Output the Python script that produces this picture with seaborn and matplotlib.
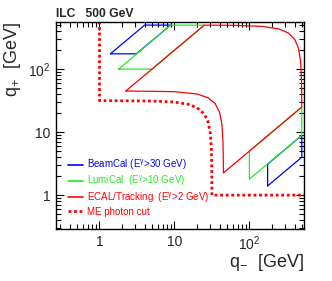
import matplotlib
matplotlib.use("Agg")
import pandas as pd
import matplotlib.pyplot as plt
import seaborn as sns
from matplotlib.ticker import FixedLocator, FixedFormatter, LogLocator, NullFormatter


sns.set_theme(style="ticks")
plt.rcParams["font.family"] = ["Liberation Sans", "DejaVu Sans"]
plt.rcParams["mathtext.fontset"] = "custom"
plt.rcParams["mathtext.rm"] = "Liberation Sans"
plt.rcParams["mathtext.it"] = "Liberation Sans"

# BeamCal acceptance (E_gamma > 30 GeV), wedges next to both axes
beamcal_upper_x = [1.4, 4.0, 8.9, 3.1, 1.4]
beamcal_upper_y = [175, 500, 500, 175, 175]
beamcal_lower_x = [175, 500, 500, 175, 175]
beamcal_lower_y = [1.4, 4.0, 8.9, 3.1, 1.4]

# LumiCal acceptance (E_gamma > 10 GeV)
lumical_upper_x = [1.8, 8.9, 25, 5.0, 1.8]
lumical_upper_y = [100, 500, 499, 100, 100]
lumical_lower_x = [100, 500, 499, 100, 100]
lumical_lower_y = [1.8, 8.9, 25, 5.0, 1.8]

# ECAL / tracking acceptance (E_gamma > 2 GeV)
ecal_x = [2.25, 10, 20, 28, 35, 40, 43, 44.5, 44.8, 45, 499.4,
          498, 495, 480, 450, 400, 330, 250, 150, 60, 25, 2.25]
ecal_y = [45, 43.9, 40.3, 35.2, 28.3, 20.6, 13.2, 6.7, 4.2, 2.25, 25,
          45, 70, 140, 218, 300, 375, 433, 477, 496, 499.4, 45]

# matrix element photon cut
me_cut_x = [1, 1, 5, 10, 15, 20, 25, 28, 30, 31, 31.5, 31.6, 700]
me_cut_y = [700, 31.6, 31.2, 30, 27.8, 24.5, 19.4, 14.7, 9.9, 5.9, 2.5, 1, 1]

BLUE = "#0000ff"
GREEN = "#22ee22"
RED = "#ff0000"


def draw_outline(ax, xs, ys, color, **kw):
    df = pd.DataFrame({"q_minus": xs, "q_plus": ys})
    sns.lineplot(data=df, x="q_minus", y="q_plus", sort=False, estimator=None,
                 color=color, ax=ax, **kw)


fig = plt.figure(figsize=(3.32, 2.81), dpi=100)
ax = fig.add_axes([56 / 332, 1 - 229 / 281, 248 / 332, 207 / 281])
ax.set_xscale("log")
ax.set_yscale("log")

draw_outline(ax, beamcal_upper_x, beamcal_upper_y, BLUE, lw=0.9)
draw_outline(ax, beamcal_lower_x, beamcal_lower_y, BLUE, lw=0.9)
draw_outline(ax, lumical_upper_x, lumical_upper_y, GREEN, lw=0.9)
draw_outline(ax, lumical_lower_x, lumical_lower_y, GREEN, lw=0.9)
draw_outline(ax, ecal_x, ecal_y, RED, lw=0.9)
draw_outline(ax, me_cut_x, me_cut_y, RED, lw=2.0, linestyle=(0, (1, 1)))

ax.set_xlim(0.263, 535)
ax.set_ylim(0.29, 560)

for axis in (ax.xaxis, ax.yaxis):
    axis.set_major_locator(FixedLocator([1, 10, 100]))
    axis.set_major_formatter(FixedFormatter(["1", "10", r"10$^{2}$"]))
    axis.set_minor_locator(LogLocator(base=10, subs=range(2, 10), numticks=20))
    axis.set_minor_formatter(NullFormatter())

ax.tick_params(which="both", direction="in", top=True, right=True, width=0.8,
               color="black", labelsize=10)
ax.tick_params(which="major", length=6, pad=4)
ax.tick_params(which="minor", length=3.5)
for spine in ax.spines.values():
    spine.set_color("black")
    spine.set_linewidth(1.0)

ax.set_xlabel(r"q$_{-}$  [GeV]", loc="right", fontsize=13)
ax.set_ylabel(r"q$_{+}$  [GeV]", loc="top", fontsize=13)
ax.xaxis.set_label_coords(1.0, -0.11)
ax.yaxis.set_label_coords(-0.135, 1.0)

from matplotlib.lines import Line2D
handles = [
    Line2D([0], [0], color=BLUE, lw=1.2),
    Line2D([0], [0], color=GREEN, lw=1.2),
    Line2D([0], [0], color=RED, lw=1.2),
    Line2D([0], [0], color=RED, lw=2.0, linestyle=(0, (1, 1))),
]
labels = [
    r"BeamCal (E$^{\gamma}$>30 GeV)",
    r"LumiCal  (E$^{\gamma}$>10 GeV)",
    r"ECAL/Tracking  (E$^{\gamma}$>2 GeV)",
    "ME photon cut",
]
leg = ax.legend(handles, labels, loc="upper left", bbox_to_anchor=(0.05, 0.345),
                frameon=False, fontsize=7, handlelength=1.5, handletextpad=0.4,
                labelspacing=0.2, borderpad=0, borderaxespad=0)
for text, color in zip(leg.get_texts(), [BLUE, GREEN, RED, RED]):
    text.set_color(color)

fig.text(56 / 332, 1 - 14 / 281, "ILC   500 GeV", fontsize=8.7, fontweight="bold",
         ha="left", va="center")

fig.savefig("out.png", dpi=100)
plt.close(fig)
